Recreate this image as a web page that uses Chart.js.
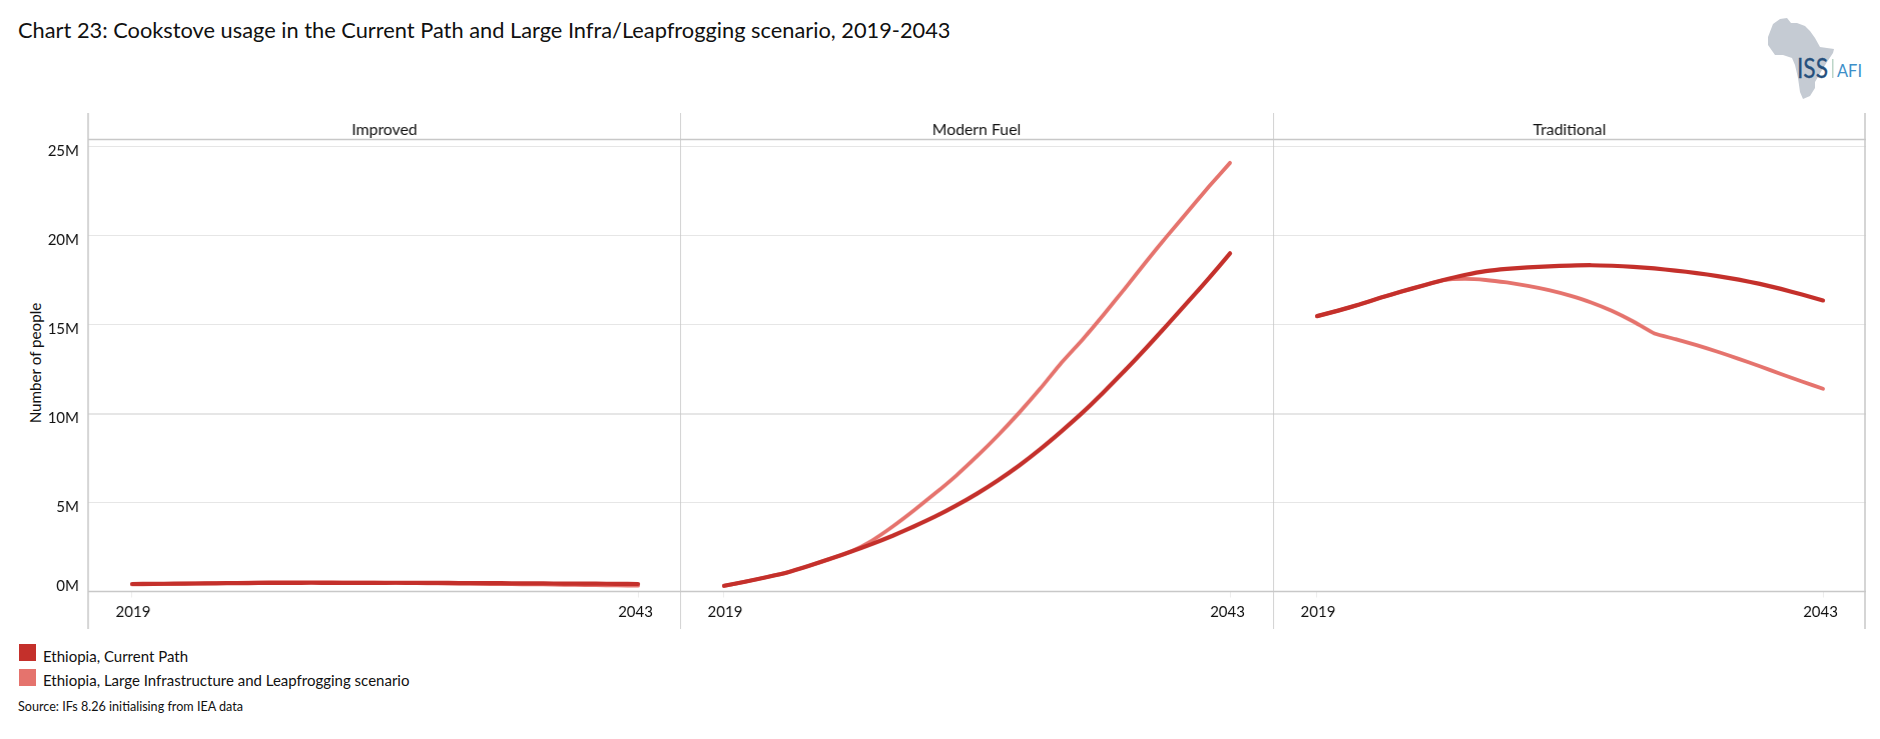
<!DOCTYPE html>
<html>
<head>
<meta charset="utf-8">
<title>Chart 23</title>
<script src="https://cdn.jsdelivr.net/npm/chart.js@4"></script>
<style>
  html, body { margin:0; padding:0; background:#fff; }
  body { width:1880px; height:739px; position:relative; overflow:hidden; font-family:Lato, "Open Sans", sans-serif; color:#111; }
  .abs { position:absolute; white-space:nowrap; }
  canvas { position:absolute; }
  .swatch { position:absolute; width:17px; height:17px; }
</style>
</head>
<body>
<div class="abs" style="left:18px;top:16px;font-size:21.8px">Chart 23: Cookstove usage in the Current Path and Large Infra/Leapfrogging scenario, 2019-2043</div>

<svg class="abs" style="left:1760px;top:10px" width="110" height="95" viewBox="0 0 110 95">
  <polygon fill="#c5cbd3" points="13,14 20,9 27,8 31,13 37,13 45,16 50,21 55,28 60,37 74,39 73,43 67,52 62,60 55,72 55,78 50,86 43,89 40,82 38,68 35,55 32,48 23,45 15,45 8,35 8,27"/>
  <text x="37" y="68" font-family="Lato" font-size="26" fill="#26507c" stroke="#26507c" stroke-width="0.3" textLength="31" lengthAdjust="spacingAndGlyphs">ISS</text>
  <rect x="72" y="49" width="1.5" height="19" fill="#bcd5c8"/>
  <text x="77" y="67" font-family="Lato" font-size="18" fill="#3d8fc9" textLength="25" lengthAdjust="spacingAndGlyphs">AFI</text>
</svg>

<div class="abs" id="yTitle" style="left:35px;top:363px;font-size:15.2px;transform:translate(-50%,-50%) rotate(-90deg)">Number of people</div>

<div class="swatch" style="left:19px;top:644px;background:#c4302b"></div>
<div class="abs" style="left:43px;top:647px;font-size:15px">Ethiopia, Current Path</div>
<div class="swatch" style="left:19px;top:669px;background:#e5736d"></div>
<div class="abs" style="left:43px;top:671px;font-size:15px">Ethiopia, Large Infrastructure and Leapfrogging scenario</div>
<div class="abs" style="left:18px;top:699px;font-size:12.6px">Source: IFs 8.26 initialising from IEA data</div>

<canvas id="c0"></canvas>
<canvas id="c1"></canvas>
<canvas id="c2"></canvas>

<script>
const panels = ['Improved', 'Modern Fuel', 'Traditional'];
const years = [2019,2020,2021,2022,2023,2024,2025,2026,2027,2028,2029,2030,2031,2032,2033,2034,2035,2036,2037,2038,2039,2040,2041,2042,2043];
const xTicks = [2019, 2043];
const yTicks = [0, 5, 10, 15, 20, 25];

// values in millions
const improvedCP = [0.42,0.43,0.44,0.45,0.46,0.47,0.48,0.48,0.49,0.49,0.49,0.49,0.49,0.49,0.48,0.48,0.47,0.47,0.46,0.46,0.45,0.44,0.44,0.43,0.42];
const improvedLI = [0.40,0.41,0.43,0.45,0.47,0.49,0.50,0.51,0.51,0.51,0.50,0.50,0.49,0.48,0.46,0.45,0.44,0.42,0.41,0.40,0.39,0.37,0.36,0.34,0.33];
const modernCP = [0.32,0.55,0.80,1.07,1.43,1.82,2.23,2.66,3.13,3.65,4.20,4.82,5.50,6.25,7.08,8.00,9.00,10.05,11.2,12.4,13.65,14.95,16.27,17.6,19.0];
const modernLI = [0.32,0.55,0.80,1.07,1.43,1.82,2.23,2.85,3.65,4.55,5.50,6.50,7.60,8.78,10.05,11.4,12.85,14.15,15.55,17.0,18.5,19.95,21.35,22.75,24.08];
const tradCP = [15.47,15.78,16.12,16.5,16.85,17.18,17.5,17.78,18.0,18.13,18.21,18.27,18.31,18.33,18.3,18.24,18.15,18.03,17.89,17.72,17.52,17.28,17.0,16.68,16.35];
const tradLI = [15.47,15.78,16.12,16.5,16.85,17.18,17.49,17.56,17.5,17.36,17.17,16.93,16.62,16.24,15.76,15.17,14.49,14.18,13.84,13.47,13.07,12.65,12.22,11.8,11.39];

// first dataset is drawn on top in Chart.js, so Current Path goes first
const seriesByPanel = [[improvedCP, improvedLI], [modernCP, modernLI], [tradCP, tradLI]];
const colors = ['#c4302b', '#e5736d'];
const widths = [4.2, 3.8];

const frameColor = '#c8c8c8';
const gridColor = '#e6e6e6';
const fontFamily = 'Lato, "Open Sans", sans-serif';

// panel left edges, plot top/bottom in page pixels
const lefts = [88, 680, 1273];
const panelW = 592.5;
const top0 = 113, headerBottom = 139.5, baseY = 591.5, bottom0 = 629;
const yAxisW = 46;

const framePlugin = {
  id: 'frame',
  // nudge tick labels: the original sets them a little off the gridlines
  beforeDraw(chart) {
    const yItems = chart.scales.y.getLabelItems(chart.chartArea);
    yItems.forEach((it, n) => { it.options.translation[1] += n === 0 ? -5.5 : 4.5; });
    const xItems = chart.scales.x.getLabelItems(chart.chartArea);
    xItems.forEach((it, n) => { it.options.translation[0] += n === 0 ? 1 : -2.5; });
  },
  afterDraw(chart, args, opts) {
    const { ctx, chartArea: a } = chart;
    ctx.save();
    ctx.strokeStyle = frameColor;
    ctx.lineWidth = 1.5;
    ctx.beginPath();
    ctx.moveTo(a.left, a.top); ctx.lineTo(a.right, a.top);
    ctx.moveTo(a.left, 0); ctx.lineTo(a.left, chart.height);
    if (opts.last) { ctx.moveTo(a.right - 1, 0); ctx.lineTo(a.right - 1, chart.height); }
    ctx.moveTo(a.left, a.bottom); ctx.lineTo(a.right, a.bottom);
    ctx.stroke();
    ctx.fillStyle = '#111';
    ctx.font = '15.8px ' + fontFamily;
    ctx.textAlign = 'center';
    ctx.textBaseline = 'middle';
    ctx.fillText(opts.label, (a.left + a.right) / 2, a.top / 2 + 4);
    ctx.restore();
  }
};

panels.forEach((name, i) => {
  const showY = i === 0;
  const extraLeft = showY ? yAxisW : 0;
  const extraRight = i === 2 ? 1 : 0;
  const canvas = document.getElementById('c' + i);
  canvas.style.left = (lefts[i] - extraLeft) + 'px';
  canvas.style.top = top0 + 'px';

  const width = panelW + extraLeft + extraRight;
  const height = bottom0 - top0;
  canvas.width = width;
  canvas.height = height;
  canvas.style.width = width + 'px';
  canvas.style.height = height + 'px';

  new Chart(canvas, {
    type: 'line',
    data: {
      datasets: seriesByPanel[i].map((vals, k) => ({
        data: vals.map((v, j) => ({ x: years[j], y: v })),
        borderColor: colors[k],
        borderWidth: widths[k],
        borderCapStyle: 'round',
        borderJoinStyle: 'round',
        pointRadius: 0,
        tension: 0.15
      }))
    },
    plugins: [framePlugin],
    options: {
      responsive: false,
      animation: false,
      events: [],
      layout: { padding: { top: headerBottom - top0, left: 0, right: extraRight, bottom: 0 } },
      plugins: {
        legend: { display: false },
        tooltip: { enabled: false },
        frame: { label: name, last: i === 2 }
      },
      scales: {
        x: {
          type: 'linear',
          min: 2019 - 2.09,
          max: 2043 + 2.04,
          afterBuildTicks: s => { s.ticks = xTicks.map(v => ({ value: v })); },
          afterFit: s => { s.height = bottom0 - baseY; },
          border: { display: false },
          grid: { drawOnChartArea: false, color: '#ececec', tickLength: 6 },
          ticks: {
            color: '#111',
            font: { family: fontFamily, size: 15 },
            autoSkip: false,
            maxRotation: 0,
            padding: 6,
            callback: v => String(v)
          }
        },
        y: {
          display: true,
          min: 0,
          max: (baseY - headerBottom) / 17.8,
          afterBuildTicks: s => { s.ticks = yTicks.map(v => ({ value: v })); },
          afterFit: s => { s.width = extraLeft; },
          border: { display: false },
          grid: {
            color: gridColor,
            lineWidth: c => c.tick && c.tick.value === 10 ? 2 : 1,
            drawTicks: false
          },
          ticks: {
            display: showY,
            color: '#111',
            font: { family: fontFamily, size: 15 },
            padding: 9,
            callback: v => v + 'M'
          }
        }
      }
    }
  });
});
</script>
</body>
</html>
